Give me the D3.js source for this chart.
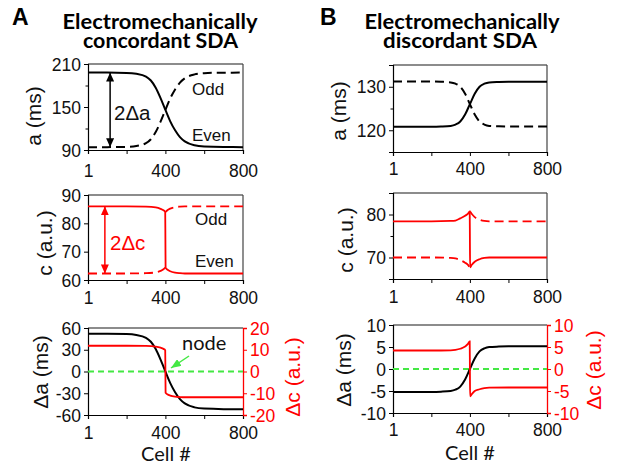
<!DOCTYPE html>
<html>
<head>
<meta charset="utf-8">
<script src="https://cdn.jsdelivr.net/npm/d3@7"></script>
<style>
  html, body { margin: 0; padding: 0; background: #fff; }
  svg { display: block; }
  .tick text { font-family: "Liberation Sans", Arial, sans-serif; font-size: 17.5px; }
</style>
</head>
<body>
<svg id="chart" width="632" height="470"></svg>
<script>
// ---- Data: cell index along the cable and simulated quantities ----
const cellTicks = [1, 200, 400, 600, 800];
const cellTickLabels = [1, 400, 800];

// Concordant case: APD (a) for even / odd beats
const cellsAa = [1, 100, 200, 250, 300, 325, 350, 375, 400, 425, 450, 475, 500, 550, 600, 700, 800];
const aEvenA  = [198, 198, 197.6, 196.4, 192.5, 187, 177, 162.5, 146, 130, 117.5, 108, 102, 96.5, 94.8, 94.1, 94];
const aOddA   = [94, 94, 94.4, 95.6, 99.5, 105, 115, 129.5, 146, 162, 174.5, 184, 190, 195.5, 197.2, 197.9, 198];
const dAA     = [52, 52, 51.6, 50.4, 46.5, 41, 31, 16.5, 0, -16, -28.5, -38, -44, -49.5, -51.2, -51.9, -52];

// Concordant case: calcium (c) for even / odd beats (null = jump gap)
const cellsAc = [1, 100, 200, 300, 350, 375, 390, 399, 400, 401, 410, 425, 450, 475, 500, 600, 800];
const cEvenA  = [86, 86, 86, 85.9, 85.6, 85.1, 84.6, 84.0, 74.2, 64.4, 63.7, 63.1, 62.6, 62.4, 62.3, 62.3, 62.3];
const cOddA   = [62.3, 62.3, 62.3, 62.4, 62.7, 63.2, 63.8, 64.4, null, 84.0, 84.6, 85.2, 85.7, 85.9, 86, 86, 86];
const dCA     = [11.85, 11.85, 11.85, 11.75, 11.45, 10.95, 10.4, 9.8, 0, -9.8, -10.45, -11.05, -11.55, -11.75, -11.85, -11.85, -11.85];

// Discordant case: APD (a)
const cellsBa = [1, 100, 200, 250, 300, 325, 350, 375, 400, 425, 450, 475, 500, 550, 600, 700, 800];
const aEvenB  = [120.8, 120.8, 120.8, 120.85, 121.0, 121.3, 122.0, 123.6, 126.0, 128.4, 130.0, 130.7, 131.0, 131.1, 131.15, 131.15, 131.15];
const aOddB   = [131.2, 131.2, 131.2, 131.15, 131.0, 130.7, 130.0, 128.4, 126.0, 123.6, 122.0, 121.3, 121.0, 120.9, 120.85, 120.85, 120.85];
const dAB     = [-5.2, -5.2, -5.2, -5.15, -5.0, -4.7, -4.0, -2.4, 0, 2.4, 4.0, 4.7, 5.0, 5.1, 5.15, 5.15, 5.15];

// Discordant case: calcium (c)
const cellsBc = [1, 100, 200, 300, 325, 350, 375, 390, 399, 400, 401, 410, 425, 450, 475, 500, 600, 800];
const cEvenB  = [78.4, 78.4, 78.4, 78.5, 78.6, 79.1, 79.7, 80.2, 80.7, 74.2, 67.7, 68.3, 69.0, 69.6, 69.9, 70.0, 70.0, 70.0];
const cOddB   = [70.0, 70.0, 70.0, 69.9, 69.8, 69.4, 68.8, 68.3, 67.7, null, 80.7, 80.1, 79.4, 78.8, 78.5, 78.4, 78.4, 78.4];
const dCB     = [4.2, 4.2, 4.2, 4.25, 4.35, 4.6, 5.1, 5.7, 6.3, 0, -6.2, -5.7, -5.0, -4.6, -4.35, -4.25, -4.2, -4.2];

// Axis tick sets
const yTicksAa = [90, 120, 150, 180, 210], yLabAa = [90, 150, 210];
const yTicksAc = [60, 70, 80, 90],          yLabAc = [60, 70, 80, 90];
const yTicksAd = [-60, -30, 0, 30, 60],     yLabAd = [-60, -30, 0, 30, 60];
const yTicksAdc = [-20, -10, 0, 10, 20];
const yTicksBa = [115, 120, 125, 130, 135], yLabBa = [120, 130];
const yTicksBc = [65, 70, 75, 80, 85],      yLabBc = [70, 80];
const yTicksBd = [-10, -5, 0, 5, 10];

// ---- Drawing ----
const svg = d3.select("#chart");
const SANS = '"Liberation Sans", Arial, sans-serif';
const CAL = 'Lato, "Open Sans", sans-serif';
const RED = "#ff0000", GREEN = "#44e844";

const defs = svg.append("defs");
function marker(id, color, w, h) {
  defs.append("marker").attr("id", id)
    .attr("viewBox", `0 0 ${w} ${h}`).attr("refX", w).attr("refY", h / 2)
    .attr("markerWidth", w).attr("markerHeight", h)
    .attr("markerUnits", "userSpaceOnUse").attr("orient", "auto-start-reverse")
    .append("path").attr("d", `M0,0L${w},${h / 2}L0,${h}Z`).attr("fill", color);
}
marker("arrBlack", "#000", 9, 8);
marker("arrRed", RED, 9, 8);
marker("arrGreen", GREEN, 10, 8);

function panel(opt) {
  const g = svg.append("g");
  const x = d3.scaleLinear().domain([1, 800]).range([opt.x0, opt.x1]);
  const y = d3.scaleLinear().domain(opt.yDomain).range([opt.y1, opt.y0]);

  // frame edges (top and right)
  g.append("line").attr("x1", opt.x0).attr("x2", opt.x1).attr("y1", opt.y0).attr("y2", opt.y0)
    .attr("stroke", "#666").attr("stroke-width", 1.5);
  if (!opt.y2Domain) {
    g.append("line").attr("x1", opt.x1).attr("x2", opt.x1).attr("y1", opt.y0).attr("y2", opt.y1)
      .attr("stroke", "#444").attr("stroke-width", 1.2);
  }

  // x axis
  const xa = g.append("g").attr("transform", `translate(0,${opt.y1})`)
    .call(d3.axisBottom(x).tickValues(cellTicks).tickSizeOuter(0).tickSize(4)
      .tickFormat(d => cellTickLabels.includes(d) ? String(d) : ""));
  xa.select(".domain").attr("stroke", "#000").attr("stroke-width", 1.2);
  xa.selectAll(".tick line").attr("stroke", "#000");
  xa.selectAll(".tick text").attr("y", opt.xLabOff).attr("dy", 0).attr("fill", "#111");

  // left y axis
  const ya = g.append("g").attr("transform", `translate(${opt.x0},0)`)
    .call(d3.axisLeft(y).tickValues(opt.yTicks).tickSizeOuter(0).tickSize(4).tickPadding(3)
      .tickFormat(d => opt.yLab.includes(d) ? String(d) : ""));
  ya.select(".domain").attr("stroke", "#000").attr("stroke-width", 1.2);
  ya.selectAll(".tick line").attr("stroke", "#000")
    .attr("x2", d => opt.yLab.includes(d) ? -4 : -2.5);
  ya.selectAll(".tick text").attr("fill", "#111").attr("dy", "0.35em");

  g.append("text").attr("transform", `translate(${opt.yTitleX},${opt.yTitleY}) rotate(-90)`)
    .attr("text-anchor", "middle").attr("font-family", SANS).attr("font-size", 21)
    .attr("fill", "#111").text(opt.yTitle);

  let y2 = null;
  if (opt.y2Domain) {
    y2 = d3.scaleLinear().domain(opt.y2Domain).range([opt.y1, opt.y0]);
    const ra = g.append("g").attr("transform", `translate(${opt.x1},0)`)
      .call(d3.axisRight(y2).tickValues(opt.y2Ticks).tickSizeOuter(0).tickSize(4).tickPadding(3)
        .tickFormat(d => String(d)));
    ra.select(".domain").attr("stroke", RED).attr("stroke-width", 1.3);
    ra.selectAll(".tick line").attr("stroke", RED);
    ra.selectAll(".tick text").attr("fill", RED).attr("dy", "0.35em");
    g.append("text").attr("transform", `translate(${opt.y2TitleX},${opt.y2TitleY}) rotate(-90)`)
      .attr("text-anchor", "middle").attr("font-family", SANS).attr("font-size", 21)
      .attr("fill", RED).text(opt.y2Title);
    // zero reference line
    g.append("line").attr("x1", opt.x0).attr("x2", opt.x1).attr("y1", y(0)).attr("y2", y(0))
      .attr("stroke", GREEN).attr("stroke-width", 1.8).attr("stroke-dasharray", "6,4");
  }

  // series
  opt.series.forEach(s => {
    const sc = s.axis === 2 ? y2 : y;
    const pts = s.cells.map((c, i) => [c, s.values[i]]);
    const line = d3.line().defined(d => d[1] != null)
      .x(d => x(d[0])).y(d => sc(d[1])).curve(d3.curveMonotoneX);
    g.append("path").attr("d", line(pts)).attr("fill", "none")
      .attr("stroke", s.color).attr("stroke-width", s.width || 2)
      .attr("stroke-dasharray", s.dash || null);
  });

  return { g, x, y, y2 };
}

const A = { x0: 88, x1: 243 }, B = { x0: 393, x1: 547 };

// Panel A, row 1: APD
const pA1 = panel({ ...A, y0: 64, y1: 150, yDomain: [90, 210], yTicks: yTicksAa, yLab: yLabAa,
  yTitle: "a (ms)", yTitleX: 41, yTitleY: 116, xLabOff: 27,
  series: [
    { cells: cellsAa, values: aEvenA, color: "#000" },
    { cells: cellsAa, values: aOddA, color: "#000", dash: "9,5" }
  ] });
// Panel A, row 2: calcium
const pA2 = panel({ ...A, y0: 195, y1: 280, yDomain: [60, 90], yTicks: yTicksAc, yLab: yLabAc,
  yTitle: "c (a.u.)", yTitleX: 52, yTitleY: 243, xLabOff: 24,
  series: [
    { cells: cellsAc, values: cEvenA, color: RED, width: 1.8 },
    { cells: cellsAc, values: cOddA, color: RED, width: 1.8, dash: "9,5" }
  ] });
// Panel A, row 3: amplitudes
const pA3 = panel({ ...A, y0: 328, y1: 415, yDomain: [-60, 60], yTicks: yTicksAd, yLab: yLabAd,
  yTitle: "\u0394a (ms)", yTitleX: 48, yTitleY: 372, xLabOff: 23.5,
  y2Domain: [-20, 20], y2Ticks: yTicksAdc, y2Title: "\u0394c (a.u.)", y2TitleX: 300, y2TitleY: 377,
  series: [
    { cells: cellsAa, values: dAA, color: "#000" },
    { cells: cellsAc, values: dCA, color: RED, width: 1.8, axis: 2 }
  ] });

// Panel B, row 1
const pB1 = panel({ ...B, y0: 65, y1: 152, yDomain: [115, 135], yTicks: yTicksBa, yLab: yLabBa,
  yTitle: "a (ms)", yTitleX: 346, yTitleY: 111, xLabOff: 23,
  series: [
    { cells: cellsBa, values: aEvenB, color: "#000" },
    { cells: cellsBa, values: aOddB, color: "#000", dash: "9,5" }
  ] });
// Panel B, row 2
const pB2 = panel({ ...B, y0: 193, y1: 279, yDomain: [65, 85], yTicks: yTicksBc, yLab: yLabBc,
  yTitle: "c (a.u.)", yTitleX: 353, yTitleY: 240, xLabOff: 23.5,
  series: [
    { cells: cellsBc, values: cEvenB, color: RED, width: 1.8 },
    { cells: cellsBc, values: cOddB, color: RED, width: 1.8, dash: "9,5" }
  ] });
// Panel B, row 3
const pB3 = panel({ ...B, y0: 325, y1: 413, yDomain: [-10, 10], yTicks: yTicksBd, yLab: yTicksBd,
  yTitle: "\u0394a (ms)", yTitleX: 351, yTitleY: 370, xLabOff: 23,
  y2Domain: [-10, 10], y2Ticks: yTicksBd, y2Title: "\u0394c (a.u.)", y2TitleX: 601, y2TitleY: 370,
  series: [
    { cells: cellsBa, values: dAB, color: "#000" },
    { cells: cellsBc, values: dCB, color: RED, width: 1.8, axis: 2 }
  ] });

// Amplitude arrows (2Δa, 2Δc) spanning the even/odd gap at the left end
const arrowCellA = 115, arrowCellC = 88;
pA1.g.append("line")
  .attr("x1", pA1.x(arrowCellA)).attr("x2", pA1.x(arrowCellA))
  .attr("y1", pA1.y(aEvenA[0])).attr("y2", pA1.y(aOddA[0]))
  .attr("stroke", "#000").attr("stroke-width", 1.5)
  .attr("marker-start", "url(#arrBlack)").attr("marker-end", "url(#arrBlack)");
pA2.g.append("line")
  .attr("x1", pA2.x(arrowCellC)).attr("x2", pA2.x(arrowCellC))
  .attr("y1", pA2.y(cEvenA[0])).attr("y2", pA2.y(cOddA[0]))
  .attr("stroke", RED).attr("stroke-width", 1.5)
  .attr("marker-start", "url(#arrRed)").attr("marker-end", "url(#arrRed)");

function label(t, x, y, opts = {}) {
  return svg.append("text").attr("x", x).attr("y", y)
    .attr("font-family", opts.font || SANS).attr("font-size", opts.size || 17)
    .attr("font-weight", opts.weight || "normal")
    .attr("text-anchor", opts.anchor || "start")
    .attr("fill", opts.color || "#111").text(t);
}
label("2\u0394a", 114, 120, { size: 20.5 });
label("Odd", 192, 95);
label("Even", 192, 141);
label("2\u0394c", 110, 250, { size: 20.5, color: RED });
label("Odd", 195, 225);
label("Even", 195, 267);

// node annotation
label("node", 182, 350, { font: CAL, size: 20 });
svg.append("line").attr("x1", 189).attr("y1", 356).attr("x2", 171).attr("y2", 368)
  .attr("stroke", GREEN).attr("stroke-width", 1.5).attr("marker-end", "url(#arrGreen)");

// x-axis titles
label("Cell #", 166, 461, { font: CAL, size: 20, anchor: "middle" });
label("Cell #", 470, 460, { font: CAL, size: 20, anchor: "middle" });

// panel letters
label("A", 12, 25, { size: 23, weight: "bold", color: "#000" });
label("B", 320, 25, { size: 23, weight: "bold", color: "#000" });

// two-line panel titles, each drawn as one text block
function title(lines, cx) {
  const t = svg.append("text").attr("font-family", CAL).attr("font-size", 20)
    .attr("font-weight", "bold").attr("fill", "#000").attr("text-anchor", "middle");
  lines.forEach(l => {
    t.append("tspan").attr("x", cx + (l.dx || 0)).attr("y", l.y)
      .attr("textLength", l.w).attr("lengthAdjust", "spacingAndGlyphs").text(l.text);
  });
}
title([{ text: "Electromechanically", y: 28.5, w: 195 },
       { text: "concordant SDA", y: 47.5, w: 155, dx: 0.5 }], 160);
title([{ text: "Electromechanically", y: 28.5, w: 195 },
       { text: "discordant SDA", y: 47.5, w: 154, dx: -2 }], 462);
</script>
</body>
</html>
